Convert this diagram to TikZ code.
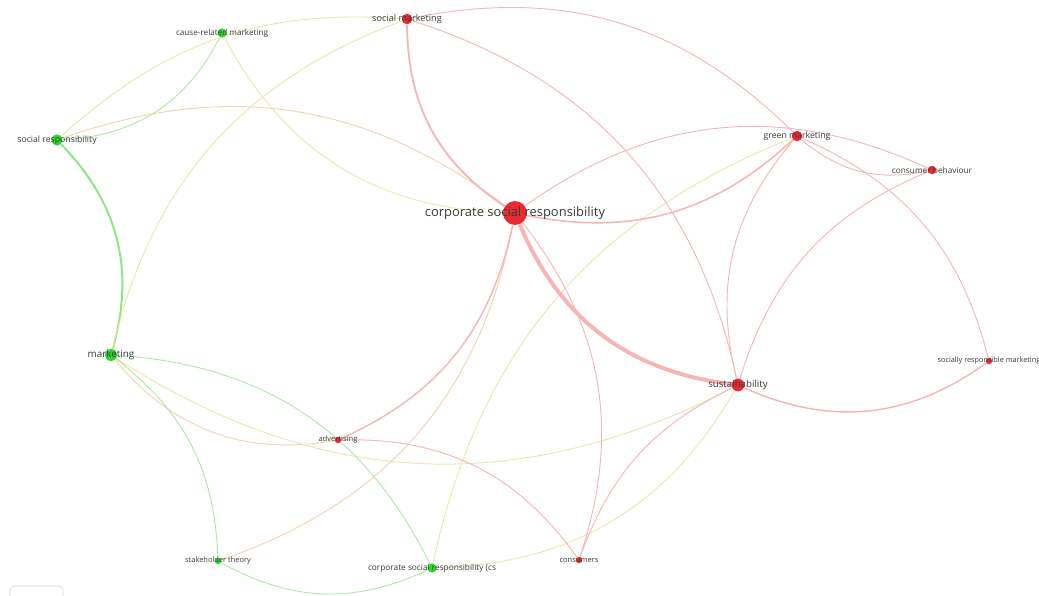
\documentclass[tikz,border=0pt]{standalone}
\usepackage{fontspec}
\setmainfont{Open Sans}
\usetikzlibrary{backgrounds}
\definecolor{nodered}{HTML}{E92A31}
\definecolor{nodegreen}{HTML}{2ED62E}
\definecolor{labelgray}{HTML}{3A3A3A}
\definecolor{linkred}{HTML}{F7B4B4}
\definecolor{linkgreen}{HTML}{AEE8A6}
\definecolor{linkyellow}{HTML}{E9E6AC}
\definecolor{linkorange}{HTML}{F3D2AE}
\definecolor{boxgray}{HTML}{D4D4D4}
\tikzset{
  kw/.style={circle,inner sep=0pt,draw=none},
  redkw/.style={kw,fill=nodered},
  greenkw/.style={kw,fill=nodegreen},
  lbl/.style={text=labelgray,inner sep=0pt},
  link/.style={line width=0.65pt,draw=linkred},
  glink/.style={link,draw=linkgreen},
  ylink/.style={link,draw=linkyellow},
  olink/.style={link,draw=linkorange}
}

\begin{document}
\begin{tikzpicture}[x=0.025cm,y=-0.025cm]
  \useasboundingbox (0,0) rectangle (1039,595);
  % keywords
  \node[redkw,minimum size=17pt] (csr) at (515,213) {};
  \node[redkw,minimum size=7.5pt] (socmkt) at (407,19) {};
  \node[greenkw,minimum size=6.5pt] (causemkt) at (222,33) {};
  \node[greenkw,minimum size=8pt] (socresp) at (57,140) {};
  \node[greenkw,minimum size=8.5pt] (mkt) at (111,355) {};
  \node[redkw,minimum size=7.5pt] (greenmkt) at (797,136) {};
  \node[redkw,minimum size=6pt] (consbeh) at (932,170) {};
  \node[redkw,minimum size=4.5pt] (srmkt) at (989,361) {};
  \node[redkw,minimum size=9pt] (sust) at (738,385) {};
  \node[redkw,minimum size=4.5pt] (advert) at (338,440) {};
  \node[greenkw,minimum size=4.5pt] (stake) at (218,561) {};
  \node[greenkw,minimum size=6.5pt] (csrcs) at (432,568) {};
  \node[redkw,minimum size=4.5pt] (consumers) at (579,560) {};

  \node[lbl,font=\fontsize{9.2}{10}\selectfont] at (csr) {corporate social responsibility};
  \node[lbl,font=\fontsize{6.5}{7}\selectfont] at (socmkt) {social marketing};
  \node[lbl,font=\fontsize{5.8}{7}\selectfont] at (causemkt) {cause-related marketing};
  \node[lbl,font=\fontsize{6.2}{7}\selectfont] at (socresp) {social responsibility};
  \node[lbl,font=\fontsize{7}{8}\selectfont] at (mkt) {marketing};
  \node[lbl,font=\fontsize{6.2}{7}\selectfont] at (greenmkt) {green marketing};
  \node[lbl,font=\fontsize{5.9}{7}\selectfont] at (consbeh) {consumer behaviour};
  \node[lbl,font=\fontsize{5.2}{6}\selectfont] at (srmkt) {socially responsible marketing};
  \node[lbl,font=\fontsize{6.9}{8}\selectfont] at (sust) {sustainability};
  \node[lbl,font=\fontsize{5.4}{6}\selectfont] at (advert) {advertising};
  \node[lbl,font=\fontsize{5.3}{6}\selectfont] at (stake) {stakeholder theory};
  \node[lbl,font=\fontsize{5.9}{6}\selectfont] at (csrcs) {corporate social responsibility (cs};
  \node[lbl,font=\fontsize{5.35}{6}\selectfont] at (consumers) {consumers};

  \draw[boxgray,rounded corners=3pt] (10,586) rectangle (63,612);

  \begin{pgfonlayer}{background}
    % green cluster
    \draw[glink] (socresp) to[bend right=30] (causemkt);
    \draw[glink,line width=1.4pt,draw=linkgreen!75!nodegreen] (socresp) to[bend left=30] (mkt);
    \draw[olink] (socresp) to[bend left=28] (csr);
    \draw[ylink] (socresp) to[bend left=23] (socmkt);
    \draw[ylink] (causemkt) to[bend right=30] (csr);
    \draw[ylink] (mkt) to[bend left=28] (socmkt);
    \draw[olink] (mkt) to[bend right=30] (advert);
    \draw[ylink] (mkt) to[bend right=30] (sust);
    \draw[glink] (mkt) to[bend left=30] (csrcs);
    \draw[glink] (mkt) to[bend left=25] (stake);
    \draw[glink] (stake) to[bend right=27] (csrcs);
    \draw[olink] (stake) to[bend right=30] (csr);
    \draw[ylink] (csrcs) to[bend left=28] (greenmkt);
    \draw[ylink] (csrcs) to[bend right=29] (sust);
    % red cluster
    \draw[link,line width=1.3pt] (socmkt) to[bend right=28] (csr);
    \draw[link,line width=2.8pt] (csr) to[bend right=30] (sust);
    \draw[link,line width=1.1pt] (csr) to[bend right=27] (greenmkt);
    \draw[link] (csr) to[bend left=30] (consbeh);
    \draw[link,line width=1pt] (csr) to[bend left=27] (advert);
    \draw[link] (csr) to[bend left=28] (consumers);
    \draw[link] (socmkt) to[bend left=28] (greenmkt);
    \draw[link] (socmkt) to[bend left=30] (sust);
    \draw[link] (greenmkt) to[bend right=26] (consbeh);
    \draw[link] (greenmkt) to[bend right=27] (sust);
    \draw[link] (greenmkt) to[bend left=26] (srmkt);
    \draw[link] (consbeh) to[bend right=25] (sust);
    \draw[link,line width=1pt] (sust) to[bend right=30] (srmkt);
    \draw[link] (sust) to[bend right=22] (consumers);
    \draw[link] (advert) to[bend left=28] (consumers);
  \end{pgfonlayer}
\end{tikzpicture}
\end{document}
